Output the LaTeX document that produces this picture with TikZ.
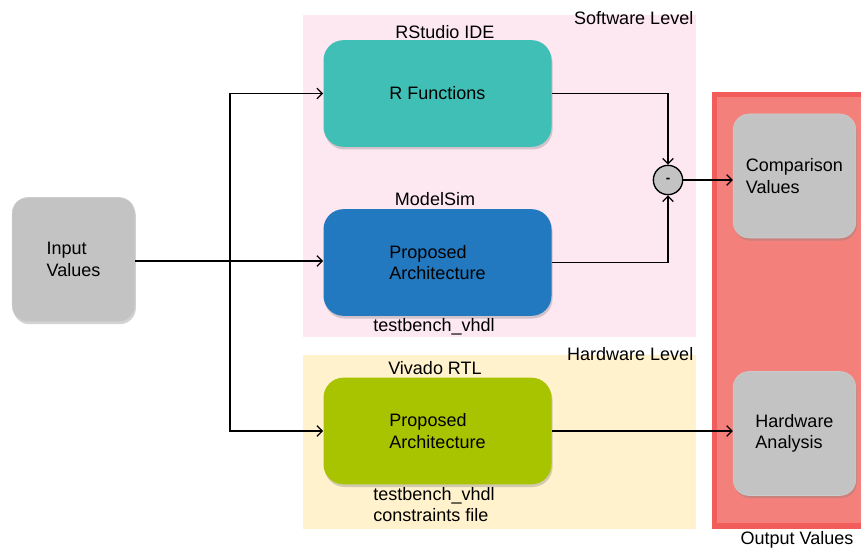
\documentclass[tikz,border=0pt]{standalone}
\usepackage{fontspec}
\setmainfont{Liberation Sans}
\usetikzlibrary{arrows.meta,shadows}
\tikzset{>={Straight Barb[length=4pt,width=8pt]}}
\definecolor{swpink}{HTML}{FDE7F1}
\definecolor{hwyellow}{HTML}{FFF2CC}
\definecolor{rteal}{HTML}{40BFB6}
\definecolor{simblue}{HTML}{2279BF}
\definecolor{rtlgreen}{HTML}{A8C300}
\definecolor{valgray}{HTML}{C3C3C3}
\definecolor{outred}{HTML}{F25C5A}
\definecolor{outfill}{HTML}{F4807B}
\tikzset{
  block/.style={rounded corners=15pt,minimum width=171pt,minimum height=80pt,
    align=left,drop shadow={opacity=0.35,shadow xshift=0.8pt,shadow yshift=-2pt}},
  valbox/.style={rounded corners=12pt,fill=valgray,draw=black!20,minimum width=92pt,
    minimum height=93pt,align=left,drop shadow={opacity=0.35,shadow xshift=0.8pt,shadow yshift=-2pt}},
  wire/.style={line width=1pt}
}

\begin{document}
\begin{tikzpicture}[x=0.75pt,y=-0.75pt,font=\fontsize{13.5}{16}\selectfont]
  \useasboundingbox (0,0) rectangle (861,549);
  % levels
  \fill[swpink] (303,15) rectangle (696,337);
  \fill[hwyellow] (303,355) rectangle (696,529);
  \node[anchor=east] (swlabel) at (698,18) {Software Level};
  \node[anchor=east] (hwlabel) at (698,354) {Hardware Level};
  % output frame
  \draw[outred,fill=outfill,line width=4pt] (714.5,94.5) rectangle (866,526);
  \node (outlabel) at (797,540) {Output Values};
  % blocks
  \node[valbox] (input) at (73.5,259.5) {Input\\Values};
  \node[block,fill=rteal] (rfunc) at (437.5,93.5) {R Functions};
  \node[block,fill=simblue] (proparch) at (437.5,262.5) {Proposed\\Architecture};
  \node[block,fill=rtlgreen] (vivado) at (437.5,431) {Proposed\\Architecture};
  \node[valbox] (compare) at (794.5,176) {Comparison\\Values};
  \node[valbox] (hwanalysis) at (794.5,433.5) {Hardware\\Analysis};
  \node[circle,draw,fill=valgray,wire,minimum size=22pt,inner sep=0pt,font=\bfseries] (minus) at (668,180) {-};
  % tool names
  \node (rstudio) at (445,32) {RStudio IDE};
  \node (modelsim) at (435,199) {ModelSim};
  \node (tb1) at (434,327) {testbench\_vhdl};
  \node (vivadortl) at (435,368) {Vivado RTL};
  \node[align=left] (tb2) at (434,504.5) {testbench\_vhdl\\constraints file};
  % connections
  \coordinate (fork) at (230,261);
  \draw[wire,->] (input.east |- fork) -- (fork -| proparch.west);
  \draw[wire,->] (fork) |- (rfunc.west);
  \draw[wire,->] (fork) |- (vivado.west);
  \draw[wire,->] (rfunc.east) -| (minus.north);
  \draw[wire,->] (proparch.east) -| (minus.south);
  \draw[wire,->] (minus.east) -- (minus -| compare.west);
  \draw[wire,->] (vivado.east) -- (vivado -| hwanalysis.west);
\end{tikzpicture}
\end{document}
